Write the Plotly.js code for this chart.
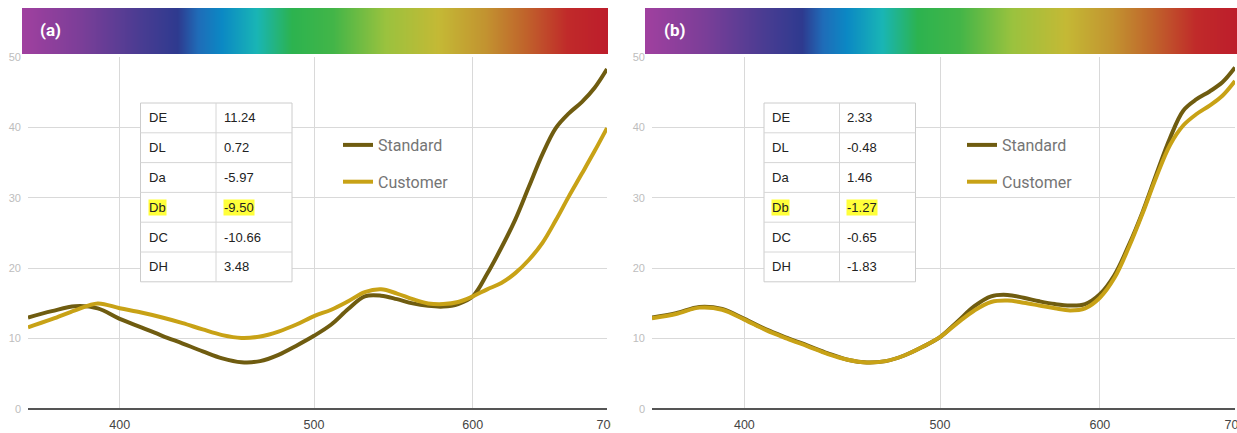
<!DOCTYPE html>
<html>
<head>
<meta charset="utf-8">
<script src="https://cdn.plot.ly/plotly-3.0.1.min.js"></script>
<style>
html,body{margin:0;padding:0;background:#fff;}
#chart{width:1237px;height:433px;}
</style>
</head>
<body>
<div id="chart"></div>
<script>
// ---------- data ----------
const wavelengths = [360,370,380,390,400,410,420,430,440,450,460,470,480,490,500,510,520,530,540,550,560,570,580,590,600,610,620,630,640,650,660,670,680,690,700];

const standardA = [13.0,13.9,14.6,14.3,12.8,11.6,10.4,9.3,8.2,7.2,6.65,6.8,7.7,9.0,10.4,12.0,14.2,16.0,16.1,15.6,15.0,14.65,14.55,14.9,16.0,19.2,22.9,26.9,31.6,36.2,39.9,42.0,43.6,45.6,48.3];
const customerA = [11.6,12.75,14.0,15.0,14.3,13.7,13.0,12.2,11.3,10.5,10.1,10.3,11.0,12.0,13.2,14.1,15.3,16.6,17.0,16.4,15.6,15.0,14.9,15.2,16.0,17.0,17.9,19.3,21.2,23.6,26.8,30.2,33.4,36.6,39.9];

const standardB = [13.0,13.6,14.5,14.2,12.8,11.3,10.1,9.0,7.9,7.0,6.6,6.8,7.6,8.8,10.2,12.4,14.6,16.0,16.2,15.8,15.3,14.9,14.7,14.9,16.3,19.0,23.2,28.0,33.4,38.5,42.4,44.0,45.1,46.4,48.5];
const customerB = [12.9,13.5,14.4,14.1,12.7,11.2,10.0,8.9,7.8,7.0,6.6,6.8,7.6,8.8,10.2,12.2,14.0,15.2,15.4,15.1,14.7,14.3,14.0,14.3,15.8,18.6,22.9,27.8,33.0,37.5,40.3,41.9,43.1,44.5,46.6];

const seriesNames = ['Standard','Customer'];
const panelLabels = ['(a)','(b)'];
const xTicks = [400,500,600,700];
const yTicks = [0,10,20,30,40,50];

const tableLabels = ['DE','DL','Da','Db','DC','DH'];
const tableValuesA = ['11.24','0.72','-5.97','-9.50','-10.66','3.48'];
const tableValuesB = ['2.33','-0.48','1.46','-1.27','-0.65','-1.83'];
const highlightLabel = 'Db';

// ---------- styles ----------
const W = 1237, H = 433;
const px = v => v / W;
const py = v => 1 - v / H;
const colStd = '#6f5c10';
const colCus = '#c8a216';
const gridCol = '#d9d9d9';
const spectrum = [[0,'#a0409f'],[0.10,'#7b3e98'],[0.2,'#4a3c92'],[0.265,'#2e3a8f'],[0.30,'#1f6cb8'],[0.34,'#0b88c4'],[0.40,'#19b5b5'],[0.46,'#2cb34f'],[0.53,'#42b548'],[0.62,'#9ac23e'],[0.71,'#c4b935'],[0.79,'#c29330'],[0.86,'#c0622b'],[0.93,'#c02a2a'],[1,'#bd1d2b']];

const panels = [
  {xa:'x', ya:'y', legend:'legend', std:standardA, cus:customerA, vals:tableValuesA, tableX:140.5, labelX:38, dom:[28,607]},
  {xa:'x2', ya:'y2', legend:'legend2', std:standardB, cus:customerB, vals:tableValuesB, tableX:764, labelX:662, dom:[652,1235]}
];

const traces = [];
const shapes = [];
const annotations = [];

panels.forEach((p, i) => {
  traces.push({type:'scatter', mode:'lines', x:wavelengths, y:p.std, name:seriesNames[0],
    xaxis:p.xa, yaxis:p.ya, legend:p.legend, legendgroup:'s'+i,
    line:{color:colStd, width:4, shape:'spline', smoothing:1}, hoverinfo:'x+y'});
  traces.push({type:'scatter', mode:'lines', x:wavelengths, y:p.cus, name:seriesNames[1],
    xaxis:p.xa, yaxis:p.ya, legend:p.legend, legendgroup:'c'+i,
    line:{color:colCus, width:4, shape:'spline', smoothing:1}, hoverinfo:'x+y'});
  // spectrum bar
  traces.push({type:'heatmap', x:[0,1], y:[0,1], z:[[0,1],[0,1]], zmin:0, zmax:1,
    colorscale:spectrum, zsmooth:'best', showscale:false, hoverinfo:'skip',
    xaxis: i === 0 ? 'x3' : 'x4', yaxis:'y3', showlegend:false});

  annotations.push({xref:'paper', yref:'paper', x:px(p.labelX), y:py(30), xanchor:'left', yanchor:'middle',
    text:'<b>'+panelLabels[i]+'</b>', showarrow:false,
    font:{family:'Roboto, Arial, sans-serif', size:17, color:'#ffffff'}});

  // table
  const tx = p.tableX, ty = 103, rowH = 29.8, c1 = 75.5, tw = 151.5;
  const th = rowH * tableLabels.length;
  shapes.push({type:'rect', xref:'paper', yref:'paper', x0:px(tx), x1:px(tx+tw), y0:py(ty), y1:py(ty+th),
    fillcolor:'#ffffff', line:{color:'#cccccc', width:1}, layer:'above'});
  shapes.push({type:'line', xref:'paper', yref:'paper', x0:px(tx+c1), x1:px(tx+c1), y0:py(ty), y1:py(ty+th),
    line:{color:'#d6d6d6', width:1}, layer:'above'});
  for (let r = 1; r < tableLabels.length; r++) {
    shapes.push({type:'line', xref:'paper', yref:'paper', x0:px(tx), x1:px(tx+tw), y0:py(ty+r*rowH), y1:py(ty+r*rowH),
      line:{color:'#d6d6d6', width:1}, layer:'above'});
  }
  tableLabels.forEach((lab, r) => {
    const hl = lab === highlightLabel;
    const yc = py(ty + (r + 0.5) * rowH);
    annotations.push({xref:'paper', yref:'paper', x:px(tx+7), y:yc, xanchor:'left', yanchor:'middle',
      text:lab, showarrow:false, borderpad:0, bgcolor: hl ? '#ffff3a' : 'rgba(0,0,0,0)',
      font:{family:'Arial, Liberation Sans, sans-serif', size:13, color:'#222222'}});
    annotations.push({xref:'paper', yref:'paper', x:px(tx+c1+6.5), y:yc, xanchor:'left', yanchor:'middle',
      text:p.vals[r], showarrow:false, borderpad:0, bgcolor: hl ? '#ffff3a' : 'rgba(0,0,0,0)',
      font:{family:'Arial, Liberation Sans, sans-serif', size:13, color:'#222222'}});
  });
});

// seam between the two pictures
shapes.push({type:'rect', xref:'paper', yref:'paper', x0:px(611), x1:px(630), y0:py(433), y1:py(412),
  fillcolor:'#ffffff', line:{width:0}, layer:'above'});

function xAxis(dom, anchor) {
  return {type:'log', range:[Math.log10(360), Math.log10(700)], domain:[px(dom[0]), px(dom[1])], anchor:anchor,
    tickvals:xTicks, ticktext:xTicks.map(String), showgrid:true, gridcolor:gridCol, gridwidth:1,
    zeroline:false, showline:false, ticks:'', fixedrange:true, ticklabelstandoff:6, ticklabeloverflow:'allow',
    tickfont:{family:'Arial, Liberation Sans, sans-serif', size:12.5, color:'#444444'}};
}
function yAxis(anchor) {
  return {range:[0,50], domain:[py(409), py(57)], anchor:anchor, tickvals:yTicks,
    showgrid:true, gridcolor:gridCol, gridwidth:1, zeroline:true, zerolinecolor:'#555555', zerolinewidth:1.5,
    showline:false, ticks:'', fixedrange:true, ticklabelstandoff:6,
    tickfont:{family:'Arial, Liberation Sans, sans-serif', size:11, color:'#bdbdbd'}};
}
function legendCfg(x) {
  return {x:px(x), y:py(128), xanchor:'left', yanchor:'top', bgcolor:'rgba(0,0,0,0)',
    font:{family:'Roboto, Arial, sans-serif', size:16, color:'#757575'},
    traceorder:'grouped', tracegroupgap:13, itemclick:false, itemdoubleclick:false};
}

const layout = {
  width:W, height:H, margin:{l:0, r:0, t:0, b:0}, paper_bgcolor:'#ffffff', plot_bgcolor:'rgba(0,0,0,0)',
  showlegend:true,
  xaxis: xAxis(panels[0].dom, 'y'),
  yaxis: yAxis('x'),
  xaxis2: xAxis(panels[1].dom, 'y2'),
  yaxis2: yAxis('x2'),
  xaxis3: {domain:[px(22), px(608)], anchor:'y3', range:[0,1], visible:false, fixedrange:true},
  xaxis4: {domain:[px(645), px(1237)], anchor:'y3', range:[0,1], visible:false, fixedrange:true},
  yaxis3: {domain:[py(54), py(8)], anchor:'x3', range:[0,1], visible:false, fixedrange:true},
  legend: legendCfg(338),
  legend2: legendCfg(962),
  shapes: shapes,
  annotations: annotations
};

Plotly.newPlot('chart', traces, layout, {displayModeBar:false, staticPlot:false, responsive:false});
</script>
</body>
</html>
